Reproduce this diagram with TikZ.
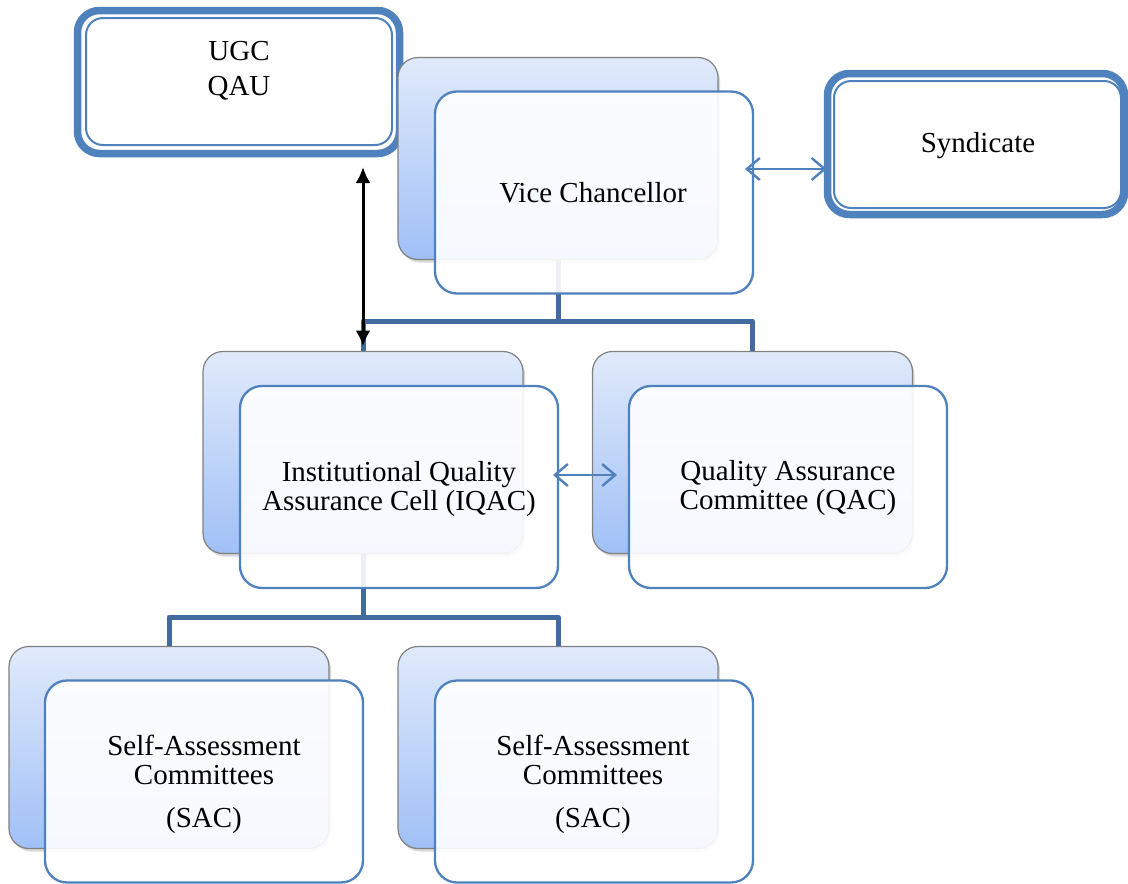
\documentclass[tikz,border=0pt]{standalone}
\usepackage{fontspec}
\setmainfont{Liberation Serif}
\usetikzlibrary{arrows.meta,shadows,calc}

\definecolor{frameblue}{RGB}{79,129,189}
\definecolor{linkblue}{RGB}{65,106,160}
\definecolor{shadetop}{RGB}{224,234,251}
\definecolor{shadebot}{RGB}{160,192,246}
\definecolor{rimgrey}{RGB}{128,128,128}

\pgfdeclarelayer{bg}
\pgfsetlayers{bg,main}

\begin{document}
\begin{tikzpicture}[x=1pt,y=-1pt,
  backbox/.style={rectangle, rounded corners=20pt, minimum width=320pt,
    minimum height=202pt, draw=rimgrey, line width=1.2pt,
    top color=shadetop, bottom color=shadebot,
    drop shadow={shadow xshift=2pt, shadow yshift=-3pt, opacity=0.3},
    inner sep=0pt, outer sep=0pt},
  frontbox/.style={rectangle, rounded corners=22pt, minimum width=318pt,
    minimum height=202pt, draw=frameblue, line width=2.3pt,
    fill=white, fill opacity=0.9, inner sep=0pt, outer sep=0pt},
  rimouter/.style={rectangle, rounded corners=22pt, draw=frameblue,
    line width=7.5pt, fill=white, inner sep=0pt, outer sep=0pt},
  riminner/.style={rectangle, rounded corners=17pt, draw=frameblue,
    line width=2pt, inner sep=0pt, outer sep=0pt},
  boxtext/.style={font=\fontsize{29}{29.5}\selectfont, align=center,
    inner sep=0pt, text=black},
  conn/.style={draw=linkblue, line width=5pt, line join=round},
  blk/.style={draw=black, line width=3pt,
    {Latex[length=16pt,width=15pt]}-{Latex[length=16pt,width=15pt]}},
  barb/.style={draw=frameblue, line width=2.4pt,
    {Straight Barb[length=13pt,width=22pt]}-{Straight Barb[length=13pt,width=22pt]}}
]
\useasboundingbox (0,0) rectangle (1128,884);
\begin{pgfonlayer}{bg}
  \fill[white] (0,0) rectangle (1128,884);
\end{pgfonlayer}

% external bodies with double frames
\node[rimouter, minimum width=322pt, minimum height=143pt] (ugcO) at (238.5,82) {};
\node[riminner, minimum width=306pt, minimum height=127pt] (ugcI) at (239,81.5) {};
\node[boxtext] (ugcT) at (239,71.2) {UGC\\[5.5pt]QAU};

\node[rimouter, minimum width=297pt, minimum height=141pt] (synO) at (976,144) {};
\node[riminner, minimum width=287pt, minimum height=127pt] (synI) at (977.5,144.5) {};
\node[boxtext, anchor=base] (synT) at (978,152) {Syndicate};

% stacked cards: shaded card behind, framed card in front
\node[backbox] (vcB) at (558,158.5) {};
\node[frontbox] (vcF) at (594,192.5) {};
\node[boxtext, anchor=base] (vcT) at (593,202) {Vice Chancellor};

\node[backbox] (iqB) at (363,452.5) {};
\node[frontbox] (iqF) at (399,487) {};
\node[boxtext] (iqT) at (399,489) {Institutional Quality\\Assurance Cell (IQAC)};

\node[backbox] (qaB) at (752.5,452.5) {};
\node[frontbox] (qaF) at (788,487) {};
\node[boxtext] (qaT) at (788,488) {Quality Assurance\\Committee (QAC)};

\node[backbox] (saB) at (169,747.5) {};
\node[frontbox] (saF) at (204,781.5) {};
\node[boxtext] (saT) at (204,784) {Self-Assessment\\Committees\\[13pt](SAC)};

\node[backbox] (sbB) at (558,747.5) {};
\node[frontbox] (sbF) at (594,781.5) {};
\node[boxtext] (sbT) at (593,784) {Self-Assessment\\Committees\\[13pt](SAC)};

% hierarchy links, kept beneath the cards
\coordinate (j1) at (558,321);
\coordinate (j2) at (363,617);
\begin{pgfonlayer}{bg}
  \draw[conn] (vcB.south) -- (j1);
  \draw[conn] (iqB.north) -- (iqB.north |- j1) -- (qaB.north |- j1) -- (qaB.north);
  \draw[conn] (iqB.south) -- (j2);
  \draw[conn] (saB.north) -- (saB.north |- j2) -- (sbB.north |- j2) -- (sbB.north);
\end{pgfonlayer}

% two-way relations
\draw[blk, shorten <=13.5pt, shorten >=5pt] (iqB.north |- ugcO.south) -- (iqB.north);
\draw[barb, shorten <=-8pt, shorten >=1pt] ([yshift=23.5pt]vcF.east) -- ([yshift=23.5pt]vcF.east -| synO.west);
\draw[barb, shorten <=-5pt, shorten >=12pt] ([yshift=12pt]iqF.east) -- ([yshift=12pt]iqF.east -| qaF.west);
\end{tikzpicture}
\end{document}
